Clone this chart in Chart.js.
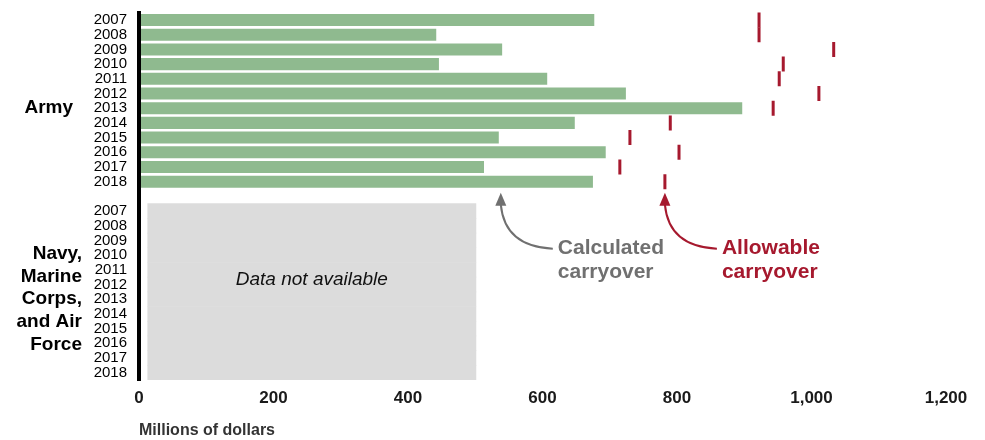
<!DOCTYPE html>
<html>
<head>
<meta charset="utf-8">
<script src="https://cdn.jsdelivr.net/npm/chart.js@4"></script>
<style>
  html, body { margin: 0; padding: 0; background: #fff; }
</style>
</head>
<body>
<canvas id="carryover" width="985" height="440"></canvas>
<script>
// --- DATA ---
const years = ['2007', '2008', '2009', '2010', '2011', '2012', '2013', '2014', '2015', '2016', '2017', '2018'];
// Army, millions of dollars
const calculatedCarryover = [677, 442, 540, 446, 607, 724, 897, 648, 535, 694, 513, 675];
const allowableCarryover = [922, 922, 1033, 958, 952, 1011, 943, 790, 730, 803, 715, 782];
// Navy, Marine Corps and Air Force: no data, grey block
const notAvailableRange = [13, 501];
const xTicks = [0, 200, 400, 600, 800, 1000, 1200];
const groupArmy = ['Army'];
const groupOthers = ['Navy,', 'Marine', 'Corps,', 'and Air', 'Force'];

// one category axis: Army years, a gap, then the other services
const yLabels = [...years, '', ...years];
const pad = (arr) => arr.concat([null], years.map(() => null));
const armyBars = pad(calculatedCarryover);
const armyMarks = pad(allowableCarryover);
const othersBox = years.map(() => null).concat([null], years.map(() => notAvailableRange));
const ARMY_ROWS = years.length;
const OTHERS_START = years.length + 1;

const GREEN = '#8fba8f';
const CRIMSON = '#a6192e';
const SANS = '"Liberation Sans", Arial, sans-serif';
const NARROW = '"Liberation Sans Narrow", "Arial Narrow", "Liberation Sans", Arial, sans-serif';

// --- annotations: group labels, "Data not available", callouts ---
function callout(ctx, tipX, tipY, lines, color) {
    const lineY = tipY + 56;
    const textX = tipX + 57;
    ctx.strokeStyle = color;
    ctx.fillStyle = color;
    ctx.lineWidth = 2;
    ctx.beginPath();
    ctx.moveTo(tipX, tipY + 12);
    ctx.quadraticCurveTo(tipX + 4, lineY - 2, textX - 5, lineY);
    ctx.stroke();
    ctx.beginPath();
    ctx.moveTo(tipX, tipY);
    ctx.lineTo(tipX - 5.5, tipY + 13);
    ctx.lineTo(tipX + 5.5, tipY + 13);
    ctx.closePath();
    ctx.fill();
    ctx.font = 'bold 21px ' + SANS;
    ctx.textAlign = 'left';
    ctx.textBaseline = 'middle';
    lines.forEach((t, i) => ctx.fillText(t, textX, lineY + i * 24));
}

const annotations = {
    id: 'annotations',
    afterDatasetsDraw(chart) {
        const { ctx, scales: { x, y } } = chart;
        ctx.save();

        ctx.fillStyle = '#000';
        ctx.font = 'bold 19px ' + SANS;
        ctx.textAlign = 'right';
        ctx.textBaseline = 'middle';
        ctx.fillText(groupArmy[0], 73, y.getPixelForValue(6));
        const mid = y.getPixelForValue(OTHERS_START + 6);
        groupOthers.forEach((t, i) => ctx.fillText(t, 82, mid + (i - 2) * 22.7));

        ctx.fillStyle = '#111';
        ctx.font = 'italic 19px ' + SANS;
        ctx.textAlign = 'center';
        ctx.fillText('Data not available',
            x.getPixelForValue((notAvailableRange[0] + notAvailableRange[1]) / 2),
            y.getPixelForValue(OTHERS_START + 4.7));

        const tipY = y.getPixelForValue(ARMY_ROWS - 1) + 11;
        callout(ctx, x.getPixelForValue(538), tipY, ['Calculated', 'carryover'], '#707070');
        callout(ctx, x.getPixelForValue(allowableCarryover[ARMY_ROWS - 1]), tipY, ['Allowable', 'carryover'], CRIMSON);

        ctx.restore();
    }
};

new Chart(document.getElementById('carryover'), {
    type: 'bar',
    data: {
        labels: yLabels,
        datasets: [
            {
                label: 'Calculated carryover',
                data: armyBars,
                backgroundColor: GREEN,
                categoryPercentage: 1,
                barPercentage: 0.82,
                grouped: false
            },
            {
                label: 'Data not available',
                data: othersBox,
                backgroundColor: '#dcdcdc',
                categoryPercentage: 1,
                barPercentage: 1,
                grouped: false
            },
            {
                type: 'line',
                label: 'Allowable carryover',
                data: armyMarks,
                indexAxis: 'y',
                showLine: false,
                pointStyle: 'line',
                rotation: 90,
                pointRadius: 7.5,
                pointHoverRadius: 7.5,
                pointBorderWidth: 3,
                pointBorderColor: CRIMSON,
                borderColor: CRIMSON
            }
        ]
    },
    options: {
        indexAxis: 'y',
        responsive: false,
        animation: false,
        events: [],
        layout: { padding: { top: 12.7, right: 39, bottom: 0, left: 0 } },
        plugins: { legend: { display: false }, tooltip: { enabled: false } },
        scales: {
            y: {
                afterFit(scale) {
                    scale.width = 139;
                    // let the layout padding decide where the rows start
                    scale.paddingTop = 0;
                    scale.paddingBottom = 0;
                },
                grid: { display: false, drawTicks: false },
                border: { display: true, color: '#000', width: 4, z: 1 },
                ticks: {
                    autoSkip: false,
                    padding: 12,
                    color: '#000',
                    font: { family: SANS, size: 15 }
                }
            },
            x: {
                min: xTicks[0],
                max: xTicks[xTicks.length - 1],
                afterFit(scale) { scale.height = 60; },
                afterBuildTicks(scale) { scale.ticks = xTicks.map(v => ({ value: v })); },
                grid: { display: false, drawTicks: false },
                border: { display: false },
                ticks: {
                    padding: 8,
                    color: '#1a1a1a',
                    font: { family: NARROW, size: 17, weight: 'bold' },
                    callback: (v) => v.toLocaleString('en-US')
                },
                title: {
                    display: true,
                    text: 'Millions of dollars',
                    align: 'start',
                    color: '#333',
                    padding: { top: 4, bottom: 0 },
                    font: { family: NARROW, size: 16, weight: 'bold' }
                }
            }
        }
    },
    plugins: [annotations]
});
</script>
</body>
</html>
